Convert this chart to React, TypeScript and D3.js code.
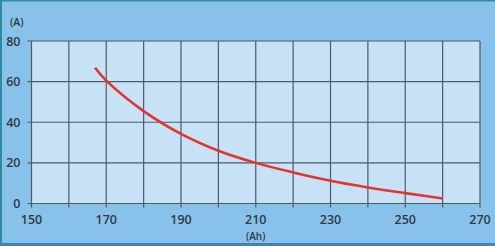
import React from "react";
import * as d3 from "d3";

const ahValues = [167, 170, 180, 190, 200, 210, 220, 230, 240, 250, 260];
const ampValues = [66.8, 60.5, 45.5, 34.3, 26, 20, 15.3, 11.2, 7.9, 5.1, 2.5];
const xTicks = [150, 170, 190, 210, 230, 250, 270];
const xGrid = [150, 160, 170, 180, 190, 200, 210, 220, 230, 240, 250, 260, 270];
const yTicks = [0, 20, 40, 60, 80];

const W = 495;
const H = 246;

export default function App() {
  const x = d3.scaleLinear().domain([150, 270]).range([31.5, 480]);
  const y = d3.scaleLinear().domain([0, 80]).range([203.5, 41]);
  const line = d3
    .line<number>()
    .x((_, i) => x(ahValues[i]))
    .y((d) => y(d))
    .curve(d3.curveCatmullRom.alpha(0.5));
  const font = "'Open Sans', 'DejaVu Sans', sans-serif";
  const gridColor = "#4d5b66";
  return (
    <svg
      width={W}
      height={H}
      style={{ position: "absolute", left: 0, top: 0, display: "block" }}
      fontFamily={font}
    >
      <rect x={0} y={0} width={W} height={H} fill="#88c2ea" />
      <rect x={0} y={0} width={W} height={1.5} fill="#2b8d9e" />
      <rect x={0} y={0} width={2} height={H} fill="#2b8d9e" />
      <rect x={0} y={243} width={W} height={3} fill="#3f86b8" />
      <rect
        x={x(150)}
        y={y(80)}
        width={x(270) - x(150)}
        height={y(0) - y(80)}
        fill="#c7e1f6"
      />
      {xGrid.map((v) => (
        <line
          key={"xg" + v}
          x1={x(v)}
          x2={x(v)}
          y1={y(80)}
          y2={y(0) + 4}
          stroke={gridColor}
          strokeWidth={1.2}
        />
      ))}
      {yTicks.map((v) => (
        <line
          key={"yg" + v}
          x1={x(150) - 4}
          x2={x(270)}
          y1={y(v)}
          y2={y(v)}
          stroke={gridColor}
          strokeWidth={1.2}
        />
      ))}
      <path
        d={line(ampValues) || ""}
        fill="none"
        stroke="#e2352b"
        strokeWidth={2.6}
        strokeLinecap="butt"
      />
      {xTicks.map((v) => (
        <text
          key={"xt" + v}
          x={x(v)}
          y={224}
          textAnchor="middle"
          fontSize={12.5}
          fill="#2e3a44"
          fontWeight={600}
        >
          {v}
        </text>
      ))}
      {yTicks.map((v) => (
        <text
          key={"yt" + v}
          x={20.5}
          y={y(v) + 4.5}
          textAnchor="end"
          fontSize={12.5}
          fill="#2e3a44"
          fontWeight={600}
        >
          {v}
        </text>
      ))}
      <text x={10} y={26} fontSize={10.5} fill="#2e3a44" fontWeight={600}>
        (A)
      </text>
      <text
        x={x(210)}
        y={240}
        textAnchor="middle"
        fontSize={10}
        fill="#2e3a44"
        fontWeight={600}
      >
        (Ah)
      </text>
    </svg>
  );
}
